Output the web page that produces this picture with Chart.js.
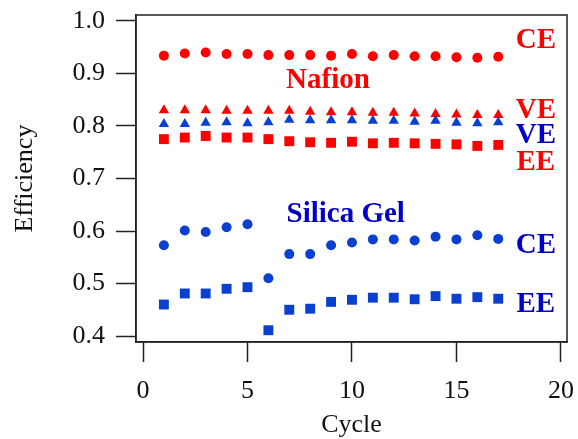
<!DOCTYPE html>
<html>
<head>
<meta charset="utf-8">
<script src="https://cdn.jsdelivr.net/npm/chart.js@4.4.1/dist/chart.umd.min.js"></script>
<style>
    html, body { margin: 0; padding: 0; background: #fff; }
    #wrap { width: 578px; height: 439px; }
</style>
</head>
<body>
<div id="wrap"><canvas id="chart"></canvas></div>
<script>
// cycle numbers, shared by every series
const cycles = [1, 2, 3, 4, 5, 6, 7, 8, 9, 10, 11, 12, 13, 14, 15, 16, 17];

// Nafion membrane
const nafionCE = [0.934, 0.938, 0.940, 0.937, 0.937, 0.935, 0.935, 0.935, 0.934, 0.937, 0.933, 0.935, 0.933, 0.933, 0.931, 0.930, 0.932];
const nafionVE = [0.830, 0.830, 0.830, 0.829, 0.829, 0.829, 0.829, 0.827, 0.826, 0.826, 0.825, 0.825, 0.824, 0.823, 0.822, 0.821, 0.821];
const nafionEE = [0.775, 0.778, 0.781, 0.778, 0.778, 0.775, 0.771, 0.769, 0.768, 0.770, 0.767, 0.768, 0.767, 0.766, 0.765, 0.762, 0.764];

// silica gel
const silicaVE = [0.804, 0.804, 0.806, 0.807, 0.805, 0.807, 0.812, 0.811, 0.811, 0.811, 0.810, 0.810, 0.808, 0.810, 0.806, 0.805, 0.807];
const silicaCE = [0.573, 0.601, 0.598, 0.607, 0.613, 0.510, 0.556, 0.556, 0.573, 0.578, 0.584, 0.584, 0.582, 0.589, 0.584, 0.592, 0.585];
const silicaEE = [0.460, 0.481, 0.481, 0.490, 0.493, 0.411, 0.450, 0.452, 0.465, 0.469, 0.473, 0.473, 0.470, 0.476, 0.471, 0.474, 0.471];

const xTicks = [0, 5, 10, 15, 20];
const yTicks = [0.4, 0.5, 0.6, 0.7, 0.8, 0.9, 1.0];

// text labels inside the plot, in data units (x = centre, y = baseline)
const noteText = ['CE', 'Nafion', 'VE', 'VE', 'EE', 'Silica Gel', 'CE', 'EE'];
const noteX = [18.8, 8.85, 18.8, 18.8, 18.8, 9.7, 18.8, 18.8];
const noteY = [0.9486, 0.8724, 0.8152, 0.7676, 0.7162, 0.6171, 0.5581, 0.4457];
const noteGroup = ['nafion', 'nafion', 'nafion', 'silica', 'nafion', 'silica', 'silica', 'silica'];

const RED = '#ff0000';
const BLUE = '#0a40d0';
const BLUE_TEXT = '#0000c8';
const FONT = 'Liberation Serif';

function toPoints(ys) {
    return cycles.map((c, i) => ({x: c, y: ys[i]}));
}

function series(label, ys, color, style, radius) {
    return {
        label: label,
        data: toPoints(ys),
        backgroundColor: color,
        borderColor: color,
        borderWidth: 0,
        pointStyle: style,
        pointRadius: radius,
        showLine: false
    };
}

// full box around the plot + the in-plot labels
const framePlugin = {
    id: 'frame',
    afterDatasetsDraw(chart) {
        const {ctx, chartArea} = chart;
        ctx.save();
        ctx.strokeStyle = '#222';
        ctx.lineWidth = 1.5;
        ctx.strokeRect(chartArea.left, chartArea.top,
            chartArea.right - chartArea.left, chartArea.bottom - chartArea.top);

        ctx.font = 'bold 29px "' + FONT + '"';
        ctx.textAlign = 'center';
        ctx.textBaseline = 'alphabetic';
        const xs = chart.scales.x, ys = chart.scales.y;
        noteText.forEach((t, i) => {
            ctx.fillStyle = noteGroup[i] === 'nafion' ? RED : BLUE_TEXT;
            ctx.fillText(t, xs.getPixelForValue(noteX[i]), ys.getPixelForValue(noteY[i]));
        });
        ctx.restore();
    }
};

// pin the axis boxes so the plot area lands where the original has it
function fitX(scale) {
    scale.height = 97;
    scale.paddingLeft = 0;
    scale.paddingRight = 0;
}

function fitY(scale) {
    scale.width = 136;
    scale.paddingTop = 0;
    scale.paddingBottom = 0;
}

new Chart(document.getElementById('chart'), {
    type: 'scatter',
    data: {
        datasets: [
            series('Nafion CE', nafionCE, RED, 'circle', 5),
            series('Silica VE', silicaVE, BLUE, 'triangle', 6),
            series('Nafion VE', nafionVE, RED, 'triangle', 6),
            series('Nafion EE', nafionEE, RED, 'rect', 7),
            series('Silica CE', silicaCE, BLUE, 'circle', 5),
            series('Silica EE', silicaEE, BLUE, 'rect', 7)
        ]
    },
    options: {
        responsive: true,
        maintainAspectRatio: false,
        animation: false,
        events: [],
        layout: {
            padding: {left: 0, right: 11, top: 15, bottom: 0}
        },
        plugins: {
            legend: {display: false},
            tooltip: {enabled: false}
        },
        scales: {
            x: {
                type: 'linear',
                min: -0.335,
                max: 20.29,
                afterBuildTicks: scale => { scale.ticks = xTicks.map(v => ({value: v})); },
                afterFit: fitX,
                grid: {
                    drawOnChartArea: false,
                    drawTicks: true,
                    tickLength: 20,
                    tickColor: '#222',
                    tickWidth: 1.5
                },
                border: {display: true, color: '#222', width: 1.5},
                ticks: {
                    color: '#111',
                    padding: 14,
                    maxRotation: 0,
                    font: {family: FONT, size: 26}
                },
                title: {
                    display: true,
                    text: 'Cycle',
                    color: '#111',
                    padding: {top: 0, bottom: 0},
                    font: {family: FONT, size: 26, lineHeight: 1.05}
                }
            },
            y: {
                type: 'linear',
                min: 0.3886,
                max: 1.0114,
                afterBuildTicks: scale => { scale.ticks = yTicks.map(v => ({value: v})); },
                afterFit: fitY,
                grid: {
                    drawOnChartArea: false,
                    drawTicks: true,
                    tickLength: 20,
                    tickColor: '#222',
                    tickWidth: 1.5
                },
                border: {display: true, color: '#222', width: 1.5},
                ticks: {
                    color: '#111',
                    padding: 11,
                    callback: v => v.toFixed(1),
                    font: {family: FONT, size: 26}
                },
                title: {
                    display: true,
                    text: 'Efficiency',
                    color: '#111',
                    padding: {top: 10, bottom: 0},
                    font: {family: FONT, size: 26}
                }
            }
        }
    },
    plugins: [framePlugin]
});
</script>
</body>
</html>
